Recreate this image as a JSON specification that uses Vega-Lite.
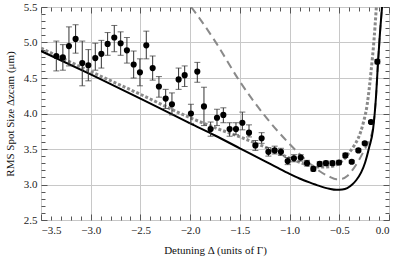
{
  "$schema": "https://vega.github.io/schema/vega-lite/v6.json",
  "width": 348,
  "height": 213,
  "autosize": {"type": "none"},
  "padding": {"left": 41, "top": 7, "right": 6, "bottom": 39},
  "config": {
    "view": {"stroke": "#555", "strokeWidth": 1},
    "font": "Liberation Serif",
    "axis": {
      "labelFont": "Liberation Serif",
      "labelFontSize": 11,
      "labelColor": "#222",
      "titleFont": "Liberation Serif",
      "titleFontSize": 11,
      "titleFontWeight": "normal",
      "titleColor": "#111",
      "domain": false,
      "tickColor": "#555",
      "gridColor": "#c8c8c8",
      "gridWidth": 1
    }
  },
  "datasets": {
    "pts": [
      {"x": -3.346, "y": 4.81, "lo": 4.60, "hi": 5.02},
      {"x": -3.280, "y": 4.79, "lo": 4.61, "hi": 4.97},
      {"x": -3.219, "y": 4.95, "lo": 4.67, "hi": 5.22},
      {"x": -3.152, "y": 5.05, "lo": 4.85, "hi": 5.25},
      {"x": -3.085, "y": 4.71, "lo": 4.39, "hi": 5.02},
      {"x": -3.024, "y": 4.68, "lo": 4.46, "hi": 4.90},
      {"x": -2.954, "y": 4.78, "lo": 4.61, "hi": 4.99},
      {"x": -2.893, "y": 4.84, "lo": 4.64, "hi": 5.03},
      {"x": -2.830, "y": 4.98, "lo": 4.82, "hi": 5.14},
      {"x": -2.763, "y": 5.07, "lo": 4.87, "hi": 5.24},
      {"x": -2.699, "y": 4.99, "lo": 4.82, "hi": 5.15},
      {"x": -2.636, "y": 4.89, "lo": 4.71, "hi": 5.07},
      {"x": -2.568, "y": 4.69, "lo": 4.50, "hi": 4.88},
      {"x": -2.505, "y": 4.58, "lo": 4.39, "hi": 4.77},
      {"x": -2.441, "y": 4.96, "lo": 4.77, "hi": 5.16},
      {"x": -2.377, "y": 4.64, "lo": 4.47, "hi": 4.81},
      {"x": -2.314, "y": 4.38, "lo": 4.23, "hi": 4.52},
      {"x": -2.246, "y": 4.21, "lo": 4.07, "hi": 4.34},
      {"x": -2.183, "y": 4.13, "lo": 3.98, "hi": 4.29},
      {"x": -2.116, "y": 4.48, "lo": 4.34, "hi": 4.64},
      {"x": -2.055, "y": 4.54, "lo": 4.38, "hi": 4.67},
      {"x": -1.992, "y": 4.00, "lo": 3.86, "hi": 4.13},
      {"x": -1.928, "y": 4.59, "lo": 4.44, "hi": 4.72},
      {"x": -1.861, "y": 4.10, "lo": 3.83, "hi": 4.37},
      {"x": -1.794, "y": 3.78, "lo": 3.68, "hi": 3.88},
      {"x": -1.730, "y": 3.94, "lo": 3.83, "hi": 4.06},
      {"x": -1.666, "y": 3.98, "lo": 3.87, "hi": 4.08},
      {"x": -1.603, "y": 3.78, "lo": 3.68, "hi": 3.87},
      {"x": -1.539, "y": 3.78, "lo": 3.70, "hi": 3.87},
      {"x": -1.475, "y": 3.87, "lo": 3.77, "hi": 4.02},
      {"x": -1.408, "y": 3.73, "lo": 3.67, "hi": 3.84},
      {"x": -1.344, "y": 3.55, "lo": 3.48, "hi": 3.62},
      {"x": -1.281, "y": 3.65, "lo": 3.58, "hi": 3.73},
      {"x": -1.213, "y": 3.46, "lo": 3.40, "hi": 3.52},
      {"x": -1.150, "y": 3.48, "lo": 3.43, "hi": 3.54},
      {"x": -1.087, "y": 3.46, "lo": 3.41, "hi": 3.51},
      {"x": -1.019, "y": 3.33, "lo": 3.28, "hi": 3.38},
      {"x": -0.956, "y": 3.37, "lo": 3.32, "hi": 3.42},
      {"x": -0.888, "y": 3.38, "lo": 3.33, "hi": 3.42},
      {"x": -0.825, "y": 3.30, "lo": 3.26, "hi": 3.34},
      {"x": -0.761, "y": 3.22, "lo": 3.19, "hi": 3.25},
      {"x": -0.697, "y": 3.29, "lo": 3.25, "hi": 3.32},
      {"x": -0.634, "y": 3.30, "lo": 3.27, "hi": 3.33},
      {"x": -0.569, "y": 3.30, "lo": 3.27, "hi": 3.33},
      {"x": -0.503, "y": 3.31, "lo": 3.28, "hi": 3.34},
      {"x": -0.439, "y": 3.41, "lo": 3.38, "hi": 3.44},
      {"x": -0.375, "y": 3.32, "lo": 3.30, "hi": 3.34},
      {"x": -0.308, "y": 3.48, "lo": 3.46, "hi": 3.50},
      {"x": -0.244, "y": 3.58, "lo": 3.56, "hi": 3.60},
      {"x": -0.181, "y": 3.88, "lo": 3.86, "hi": 3.90},
      {"x": -0.117, "y": 4.73, "lo": 4.70, "hi": 4.76}
    ],
    "curves": [
      {"c": "solid", "x": -3.5, "y": 4.88},
      {"c": "solid", "x": -3.0, "y": 4.55},
      {"c": "solid", "x": -2.5, "y": 4.21},
      {"c": "solid", "x": -2.0, "y": 3.86},
      {"c": "solid", "x": -1.75, "y": 3.69},
      {"c": "solid", "x": -1.5, "y": 3.51},
      {"c": "solid", "x": -1.25, "y": 3.33},
      {"c": "solid", "x": -1.1, "y": 3.22},
      {"c": "solid", "x": -1.0, "y": 3.15},
      {"c": "solid", "x": -0.9, "y": 3.085},
      {"c": "solid", "x": -0.8, "y": 3.03},
      {"c": "solid", "x": -0.7, "y": 2.98},
      {"c": "solid", "x": -0.6, "y": 2.94},
      {"c": "solid", "x": -0.53, "y": 2.925},
      {"c": "solid", "x": -0.47, "y": 2.93},
      {"c": "solid", "x": -0.42, "y": 2.95},
      {"c": "solid", "x": -0.37, "y": 3.0},
      {"c": "solid", "x": -0.33, "y": 3.06},
      {"c": "solid", "x": -0.28, "y": 3.17},
      {"c": "solid", "x": -0.24, "y": 3.31},
      {"c": "solid", "x": -0.2, "y": 3.52},
      {"c": "solid", "x": -0.16, "y": 3.78},
      {"c": "solid", "x": -0.13, "y": 4.25},
      {"c": "solid", "x": -0.11, "y": 4.73},
      {"c": "solid", "x": -0.09, "y": 5.15},
      {"c": "solid", "x": -0.07, "y": 5.5},
      {"c": "dotted", "x": -3.5, "y": 4.92},
      {"c": "dotted", "x": -3.0, "y": 4.59},
      {"c": "dotted", "x": -2.5, "y": 4.27},
      {"c": "dotted", "x": -2.0, "y": 3.94},
      {"c": "dotted", "x": -1.75, "y": 3.80},
      {"c": "dotted", "x": -1.5, "y": 3.67},
      {"c": "dotted", "x": -1.25, "y": 3.53},
      {"c": "dotted", "x": -1.0, "y": 3.37},
      {"c": "dotted", "x": -0.83, "y": 3.28},
      {"c": "dotted", "x": -0.7, "y": 3.245},
      {"c": "dotted", "x": -0.6, "y": 3.25},
      {"c": "dotted", "x": -0.5, "y": 3.30},
      {"c": "dotted", "x": -0.45, "y": 3.36},
      {"c": "dotted", "x": -0.4, "y": 3.45},
      {"c": "dotted", "x": -0.35, "y": 3.55},
      {"c": "dotted", "x": -0.31, "y": 3.65},
      {"c": "dotted", "x": -0.26, "y": 3.86},
      {"c": "dotted", "x": -0.22, "y": 4.12},
      {"c": "dotted", "x": -0.18, "y": 4.6},
      {"c": "dotted", "x": -0.15, "y": 5.05},
      {"c": "dotted", "x": -0.127, "y": 5.5},
      {"c": "dashed", "x": -1.99, "y": 5.5},
      {"c": "dashed", "x": -1.9, "y": 5.33},
      {"c": "dashed", "x": -1.75, "y": 5.02},
      {"c": "dashed", "x": -1.5, "y": 4.45},
      {"c": "dashed", "x": -1.25, "y": 3.97},
      {"c": "dashed", "x": -1.0, "y": 3.57},
      {"c": "dashed", "x": -0.8, "y": 3.30},
      {"c": "dashed", "x": -0.7, "y": 3.19},
      {"c": "dashed", "x": -0.6, "y": 3.11},
      {"c": "dashed", "x": -0.53, "y": 3.075},
      {"c": "dashed", "x": -0.47, "y": 3.08},
      {"c": "dashed", "x": -0.42, "y": 3.12},
      {"c": "dashed", "x": -0.37, "y": 3.2},
      {"c": "dashed", "x": -0.3, "y": 3.35},
      {"c": "dashed", "x": -0.25, "y": 3.48},
      {"c": "dashed", "x": -0.2, "y": 3.62},
      {"c": "dashed", "x": -0.16, "y": 3.8},
      {"c": "dashed", "x": -0.13, "y": 4.25},
      {"c": "dashed", "x": -0.11, "y": 4.73},
      {"c": "dashed", "x": -0.09, "y": 5.15},
      {"c": "dashed", "x": -0.07, "y": 5.5}
    ]
  },
  "resolve": {"axis": {"x": "independent", "y": "independent"}},
  "layer": [
    {
      "data": {"name": "curves"},
      "transform": [{"filter": "datum.c === 'dashed'"}],
      "mark": {"type": "line", "color": "#8a8a8a", "strokeWidth": 2, "strokeDash": [8, 5], "interpolate": "monotone", "clip": true},
      "encoding": {
        "x": {"field": "x", "type": "quantitative",
          "scale": {"domain": [-3.5, 0], "nice": false, "zero": false},
          "axis": {
            "orient": "bottom",
            "title": "Detuning Δ (units of Γ)",
            "titlePadding": 9,
            "values": [-3.5,-3.4,-3.3,-3.2,-3.1,-3.0,-2.9,-2.8,-2.7,-2.6,-2.5,-2.4,-2.3,-2.2,-2.1,-2.0,-1.9,-1.8,-1.7,-1.6,-1.5,-1.4,-1.3,-1.2,-1.1,-1.0,-0.9,-0.8,-0.7,-0.6,-0.5,-0.4,-0.3,-0.2,-0.1,0],
            "labelExpr": "abs(round(datum.value*10)) % 5 == 0 ? format(datum.value, '.1f') : ''",
            "labelPadding": 10,
            "tickSize": {"condition": {"test": "abs(round(datum.value*10)) % 5 == 0", "value": -6}, "value": -4},
            "gridOpacity": {"condition": {"test": "abs(round(datum.value*10)) % 5 == 0", "value": 1}, "value": 0},
            "grid": true
          }},
        "y": {"field": "y", "type": "quantitative",
          "scale": {"domain": [2.5, 5.5], "nice": false, "zero": false},
          "axis": {
            "orient": "left",
            "title": "RMS Spot Size Δzcam (μm)",
            "titlePadding": 8,
            "values": [2.5,2.6,2.7,2.8,2.9,3.0,3.1,3.2,3.3,3.4,3.5,3.6,3.7,3.8,3.9,4.0,4.1,4.2,4.3,4.4,4.5,4.6,4.7,4.8,4.9,5.0,5.1,5.2,5.3,5.4,5.5],
            "labelExpr": "abs(round(datum.value*10)) % 5 == 0 ? format(datum.value, '.1f') : ''",
            "labelPadding": 10,
            "tickSize": {"condition": {"test": "abs(round(datum.value*10)) % 5 == 0", "value": -6}, "value": -4},
            "gridOpacity": {"condition": {"test": "abs(round(datum.value*10)) % 5 == 0", "value": 1}, "value": 0},
            "grid": true
          }}
      }
    },
    {
      "data": {"name": "curves"},
      "transform": [{"filter": "datum.c === 'dotted'"}],
      "mark": {"type": "line", "color": "#8a8a8a", "strokeWidth": 3, "strokeDash": [3, 2], "interpolate": "monotone", "clip": true},
      "encoding": {
        "x": {"field": "x", "type": "quantitative",
          "scale": {"domain": [-3.5, 0], "nice": false, "zero": false},
          "axis": {
            "orient": "top", "title": null, "labels": false, "grid": false,
            "values": [-3.5,-3.4,-3.3,-3.2,-3.1,-3.0,-2.9,-2.8,-2.7,-2.6,-2.5,-2.4,-2.3,-2.2,-2.1,-2.0,-1.9,-1.8,-1.7,-1.6,-1.5,-1.4,-1.3,-1.2,-1.1,-1.0,-0.9,-0.8,-0.7,-0.6,-0.5,-0.4,-0.3,-0.2,-0.1,0],
            "tickSize": {"condition": {"test": "abs(round(datum.value*10)) % 5 == 0", "value": -6}, "value": -4}
          }},
        "y": {"field": "y", "type": "quantitative",
          "scale": {"domain": [2.5, 5.5], "nice": false, "zero": false},
          "axis": {
            "orient": "right", "title": null, "labels": false, "grid": false,
            "values": [2.5,2.6,2.7,2.8,2.9,3.0,3.1,3.2,3.3,3.4,3.5,3.6,3.7,3.8,3.9,4.0,4.1,4.2,4.3,4.4,4.5,4.6,4.7,4.8,4.9,5.0,5.1,5.2,5.3,5.4,5.5],
            "tickSize": {"condition": {"test": "abs(round(datum.value*10)) % 5 == 0", "value": -6}, "value": -4}
          }}
      }
    },
    {
      "data": {"name": "curves"},
      "transform": [{"filter": "datum.c === 'solid'"}],
      "mark": {"type": "line", "color": "#000000", "strokeWidth": 2, "interpolate": "monotone", "clip": true},
      "encoding": {
        "x": {"field": "x", "type": "quantitative", "scale": {"domain": [-3.5, 0], "nice": false, "zero": false}, "axis": null},
        "y": {"field": "y", "type": "quantitative", "scale": {"domain": [2.5, 5.5], "nice": false, "zero": false}, "axis": null}
      }
    },
    {
      "data": {"name": "pts"},
      "mark": {"type": "errorbar", "color": "#333333", "thickness": 1, "ticks": {"size": 6, "color": "#333333"}},
      "encoding": {
        "x": {"field": "x", "type": "quantitative", "scale": {"domain": [-3.5, 0], "nice": false, "zero": false}, "axis": null},
        "y": {"field": "lo", "type": "quantitative", "scale": {"domain": [2.5, 5.5], "nice": false, "zero": false}, "axis": null},
        "y2": {"field": "hi"}
      }
    },
    {
      "data": {"name": "pts"},
      "mark": {"type": "point", "filled": true, "color": "#000000", "opacity": 1, "size": 38},
      "encoding": {
        "x": {"field": "x", "type": "quantitative", "scale": {"domain": [-3.5, 0], "nice": false, "zero": false}, "axis": null},
        "y": {"field": "y", "type": "quantitative", "scale": {"domain": [2.5, 5.5], "nice": false, "zero": false}, "axis": null}
      }
    }
  ]
}
